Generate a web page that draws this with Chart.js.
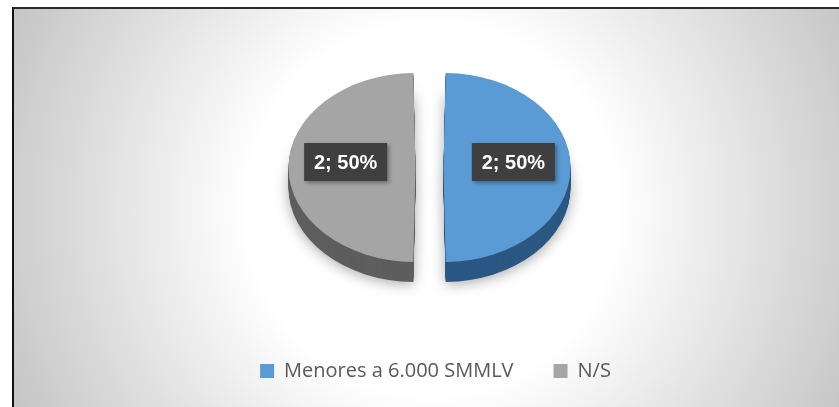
<!DOCTYPE html>
<html><head><meta charset="utf-8">
<script src="https://cdn.jsdelivr.net/npm/chart.js@4/dist/chart.umd.min.js"></script>
<style>
html,body{margin:0;padding:0;width:839px;height:407px;overflow:hidden;background:#fff}
#frame{position:absolute;left:12px;top:7px;width:900px;height:480px;border-top:2px solid #2a2a2a;border-left:2px solid #111;
  background:radial-gradient(circle at 418px 200px,#ffffff 0px,#ffffff 185px,#c3c3c3 470px);}
#c{position:absolute;left:0;top:0}
</style></head><body>
<div id="frame"></div>
<canvas id="c" width="839" height="407"></canvas>
<script>
const categories = ['Menores a 6.000 SMMLV', 'N/S'];
const counts = [2, 2];
const topColors = ['#5b9bd5', '#a5a5a5'];
const sideColors = ['#2b5783', '#5e5e5e'];

// 3D look
const CX = 429.5, CY = 167.5, TILT = 0.745, DEPTH = 20;

function mapPt(chart, ux, uy) {
  const el = chart.getDatasetMeta(0).data[0];
  return [CX + (ux - el.x), CY + (uy - el.y) * TILT];
}

const pie3d = {
  id: 'pie3d',
  beforeDatasetsDraw(chart) {
    const ctx = chart.ctx;
    const meta = chart.getDatasetMeta(0);
    const el0 = meta.data[0];
    ctx.save();
    ctx.translate(CX, CY);
    ctx.scale(1, TILT);
    ctx.translate(-el0.x, -el0.y);
    for (let d = DEPTH; d >= 1; d--) {
      ctx.save();
      ctx.translate(0, d / TILT);
      if (d === DEPTH) {
        ctx.shadowColor = 'rgba(0,0,0,0.35)';
        ctx.shadowBlur = 14;
        ctx.shadowOffsetY = 2;
      }
      meta.data.forEach((el, i) => {
        const orig = el.options;
        el.options = Object.assign({}, orig, {backgroundColor: sideColors[i], borderColor: sideColors[i]});
        el.draw(ctx);
        el.options = orig;
      });
      ctx.restore();
    }
  },
  afterDatasetsDraw(chart) {
    const ctx = chart.ctx;
    ctx.restore();
    const meta = chart.getDatasetMeta(0);
    const total = counts.reduce((a, b) => a + b, 0);
    ctx.save();
    ctx.font = 'bold 20px "Liberation Sans", Arial, sans-serif';
    ctx.textAlign = 'center';
    ctx.textBaseline = 'middle';
    meta.data.forEach((el, i) => {
      const mid = (el.startAngle + el.endAngle) / 2;
      const shift = (el.options.offset || 0) / 4;
      const r = shift + (el.outerRadius + shift) * 0.55;
      let [sx, sy] = mapPt(chart, el.x + Math.cos(mid) * r, el.y + Math.sin(mid) * r);
      sy -= 5.5;
      const txt = counts[i] + '; ' + Math.round(counts[i] / total * 100) + '%';
      const w = 83, h = 38;
      ctx.shadowColor = 'rgba(0,0,0,0.35)';
      ctx.shadowBlur = 4;
      ctx.shadowOffsetX = 2;
      ctx.shadowOffsetY = 2;
      ctx.fillStyle = '#3f3f3f';
      ctx.fillRect(sx - w / 2, sy - h / 2, w, h);
      ctx.shadowColor = 'transparent';
      ctx.fillStyle = '#ffffff';
      ctx.fillText(txt, sx, sy + 1);
    });
    ctx.restore();
  }
};

new Chart(document.getElementById('c'), {
  type: 'pie',
  data: {
    labels: categories,
    datasets: [{
      data: counts,
      backgroundColor: topColors,
      borderWidth: 0,
      offset: 56,
      radius: 113,
      clip: false
    }]
  },
  options: {
    responsive: false,
    devicePixelRatio: 1,
    animation: false,
    events: [],
    layout: {padding: {left: 32, right: 0, top: 10, bottom: 16}},
    plugins: {
      tooltip: {enabled: false},
      legend: {
        position: 'bottom',
        labels: {
          boxWidth: 14, boxHeight: 14, padding: 40,
          color: '#595959',
          font: {family: '"Open Sans", sans-serif', size: 20}
        }
      }
    }
  },
  plugins: [pie3d]
});
</script>
</body></html>
